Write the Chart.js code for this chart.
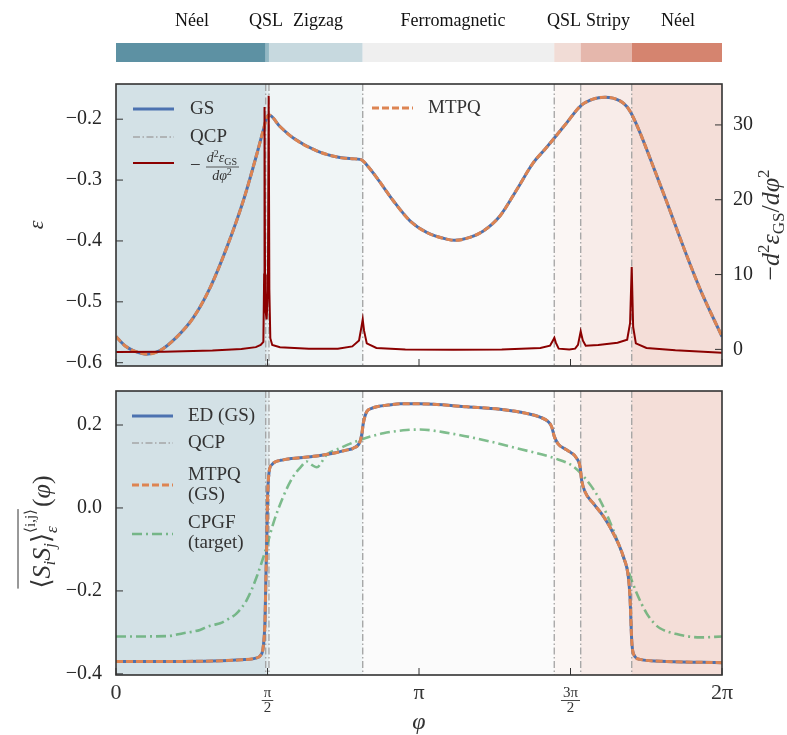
<!DOCTYPE html>
<html>
<head>
<meta charset="utf-8">
<script src="https://cdn.jsdelivr.net/npm/chart.js@4.4.1/dist/chart.umd.min.js"></script>
<style>
  body { margin: 0; background: #fff; }
  canvas { position: absolute; left: 0; }
  #topChart { top: 0; }
  #bottomChart { top: 378px; }
</style>
</head>
<body>
<canvas id="topChart" width="787" height="378"></canvas>
<canvas id="bottomChart" width="787" height="357"></canvas>
<script>
const PI = Math.PI;
const SERIF = "'Liberation Serif', 'DejaVu Serif', serif";
const INK = '#333333';

/* ======= Data ======= */
const xTicks = [0, PI / 2, PI, 3 * PI / 2, 2 * PI];
const xTickLabels = ['0', 'π/2', 'π', '3π/2', '2π'];

const phaseNames = ['Néel', 'QSL', 'Zigzag', 'Ferromagnetic', 'QSL', 'Stripy', 'Néel'];
const phaseLabelPhi = [0.788, 1.555, 2.094, 3.494, 4.645, 5.101, 5.827];
const phaseEdges = [0, 1.552, 1.586, 2.558, 4.544, 4.818, 5.347, 2 * PI];
const phaseColors = ['#5d91a3', '#93b8c4', '#c7d9df', '#efefef', '#f1dcd6', '#e5b7ac', '#d5846f'];
const qcpPhi = [1.552, 1.586, 2.558, 4.544, 4.818, 5.347];

// top panel: ground state energy per site
const energyPhi = [0, 0.10, 0.18, 0.318, 0.456, 0.629, 0.802, 0.975, 1.148, 1.320, 1.459, 1.527,
  1.562, 1.586, 1.70, 1.838, 2.081, 2.322, 2.45, 2.530, 2.558, 2.62, 2.703, 2.875, 3.048, 3.221,
  3.428, 3.515, 3.65, 3.805, 3.981, 4.158, 4.324, 4.450, 4.545, 4.673, 4.818, 4.946, 5.070, 5.226,
  5.30, 5.347, 5.433, 5.568, 5.713, 5.879, 6.056, 6.283];
const energyGS = [-0.557, -0.573, -0.580, -0.586, -0.580, -0.558, -0.526, -0.477, -0.411, -0.334,
  -0.258, -0.218, -0.198, -0.193, -0.212, -0.231, -0.252, -0.263, -0.265, -0.266, -0.268, -0.279,
  -0.296, -0.334, -0.367, -0.386, -0.397, -0.399, -0.395, -0.384, -0.359, -0.315, -0.272, -0.249,
  -0.231, -0.206, -0.178, -0.167, -0.164, -0.170, -0.180, -0.192, -0.222, -0.277, -0.337, -0.408,
  -0.479, -0.557];
const energyMTPQ = [-0.557, -0.573, -0.580, -0.586, -0.580, -0.558, -0.526, -0.477, -0.411, -0.334,
  -0.258, -0.218, -0.198, -0.193, -0.212, -0.231, -0.252, -0.263, -0.265, -0.266, -0.268, -0.279,
  -0.296, -0.334, -0.367, -0.386, -0.397, -0.399, -0.395, -0.384, -0.359, -0.315, -0.272, -0.249,
  -0.231, -0.206, -0.178, -0.167, -0.164, -0.170, -0.180, -0.192, -0.222, -0.277, -0.337, -0.408,
  -0.479, -0.557];

// top panel: -d2E/dphi2 (right axis)
const derivPhi = [0, 0.5, 1.0, 1.3, 1.45, 1.50, 1.528, 1.536, 1.540, 1.545, 1.552, 1.562, 1.575,
  1.583, 1.590, 1.600, 1.62, 1.7, 2.0, 2.3, 2.45, 2.52, 2.545, 2.558, 2.572, 2.6, 2.7, 3.0, 3.5,
  4.0, 4.4, 4.50, 4.53, 4.545, 4.56, 4.59, 4.70, 4.76, 4.79, 4.818, 4.84, 4.87, 5.0, 5.2, 5.30,
  5.33, 5.347, 5.362, 5.39, 5.5, 5.8, 6.283];
const derivVal = [-0.36, -0.3, -0.15, 0.05, 0.3, 0.6, 1.0, 10, 32.4, 10, 5, 4, 8, 33.9, 8, 1.5,
  0.6, 0.3, 0.1, 0.1, 0.4, 1.2, 3.0, 4.0, 2.5, 0.8, 0.2, 0.0, -0.05, 0.0, 0.2, 0.5, 1.2, 1.55,
  0.9, 0.1, 0.0, 0.1, 0.6, 2.4, 1.2, 0.5, 0.6, 0.9, 1.3, 3.5, 11.0, 3.0, 0.8, 0.2, -0.1, -0.44];

// bottom panel: averaged spin correlation
const corrPhi = [0, 0.5, 1.0, 1.3, 1.45, 1.50, 1.527, 1.545, 1.555, 1.562, 1.572, 1.586, 1.614,
  1.735, 1.908, 2.10, 2.253, 2.40, 2.460, 2.530, 2.55, 2.564, 2.599, 2.65, 2.703, 2.85, 2.944,
  3.152, 3.290, 3.636, 3.981, 4.258, 4.396, 4.482, 4.517, 4.545, 4.586, 4.673, 4.776, 4.811,
  4.828, 4.863, 4.949, 5.053, 5.156, 5.260, 5.312, 5.329, 5.347, 5.364, 5.433, 5.710, 6.283];
const corrED = [-0.370, -0.370, -0.369, -0.366, -0.362, -0.355, -0.334, -0.27, -0.16, -0.093,
  0.028, 0.084, 0.104, 0.116, 0.121, 0.126, 0.132, 0.140, 0.144, 0.160, 0.180, 0.204, 0.232,
  0.240, 0.244, 0.249, 0.251, 0.251, 0.250, 0.244, 0.238, 0.228, 0.219, 0.208, 0.196, 0.172,
  0.154, 0.140, 0.120, 0.100, 0.067, 0.039, 0.011, -0.020, -0.061, -0.117, -0.166, -0.214,
  -0.319, -0.351, -0.365, -0.370, -0.373];
const corrMTPQ = [-0.370, -0.370, -0.369, -0.366, -0.362, -0.355, -0.334, -0.27, -0.16, -0.093,
  0.028, 0.084, 0.104, 0.116, 0.121, 0.126, 0.132, 0.140, 0.144, 0.160, 0.180, 0.204, 0.232,
  0.240, 0.244, 0.249, 0.251, 0.251, 0.250, 0.244, 0.238, 0.228, 0.219, 0.208, 0.196, 0.172,
  0.154, 0.140, 0.120, 0.100, 0.067, 0.039, 0.011, -0.020, -0.061, -0.117, -0.166, -0.214,
  -0.319, -0.351, -0.365, -0.370, -0.373];
const cpgfPhi = [0, 0.525, 0.698, 0.871, 0.95, 1.009, 1.08, 1.147, 1.251, 1.355, 1.459, 1.562,
  1.631, 1.735, 1.838, 1.92, 1.977, 2.03, 2.081, 2.184, 2.322, 2.530, 2.771, 3.014, 3.152, 3.463,
  3.808, 4.154, 4.545, 4.742, 4.880, 5.018, 5.156, 5.295, 5.398, 5.502, 5.58, 5.640, 5.813,
  6.056, 6.283];
const cpgfVal = [-0.310, -0.309, -0.302, -0.294, -0.286, -0.282, -0.278, -0.270, -0.254, -0.222,
  -0.166, -0.093, -0.037, 0.028, 0.076, 0.100, 0.112, 0.104, 0.098, 0.128, 0.144, 0.164, 0.180,
  0.188, 0.189, 0.180, 0.164, 0.144, 0.120, 0.100, 0.067, 0.019, -0.053, -0.141, -0.205, -0.254,
  -0.278, -0.290, -0.304, -0.312, -0.310];

/* ======= Helpers ======= */
function pts(xs, ys) {
  return xs.map((x, i) => ({ x: x, y: ys[i] }));
}

function fmtTick(v, digits) {
  const s = Math.abs(v) < 1e-9 ? (0).toFixed(digits) : v.toFixed(digits);
  return s.replace('-', '\u2212');
}

// draw a list of text runs (for sub/superscripts); returns total width
function drawRuns(ctx, runs, x, y, measureOnly) {
  let cx = x, start = x;
  runs.forEach(r => {
    ctx.font = (r.it ? 'italic ' : '') + r.s + 'px ' + SERIF;
    const w = ctx.measureText(r.t).width;
    const sx = r.over ? start : cx;
    if (!measureOnly) ctx.fillText(r.t, sx, y + (r.dy || 0));
    start = sx;
    cx = Math.max(cx, sx + w);
  });
  return cx - x;
}

function sampleLine(ctx, x, y, color, width, dash) {
  ctx.save();
  ctx.strokeStyle = color;
  ctx.lineWidth = width;
  ctx.setLineDash(dash || []);
  ctx.beginPath();
  ctx.moveTo(x, y);
  ctx.lineTo(x + 41, y);
  ctx.stroke();
  ctx.restore();
}

function legendText(ctx, text, x, y) {
  ctx.font = '19px ' + SERIF;
  ctx.fillStyle = INK;
  ctx.textAlign = 'left';
  ctx.textBaseline = 'middle';
  ctx.fillText(text, x, y);
}

const QCP_DASH = [7, 2.5, 1.5, 2.5];
const QCP_COLOR = 'rgba(160,160,160,0.9)';

/* ======= Plugins ======= */
const phasePlugin = {
  id: 'phases',
  beforeDatasetsDraw(chart) {
    const { ctx, chartArea: a, scales: { x } } = chart;
    ctx.save();
    ctx.beginPath();
    ctx.rect(a.left, a.top, a.width, a.height);
    ctx.clip();
    ctx.globalAlpha = 0.27;
    phaseColors.forEach((c, i) => {
      const x0 = x.getPixelForValue(phaseEdges[i]);
      const x1 = x.getPixelForValue(phaseEdges[i + 1]);
      ctx.fillStyle = c;
      ctx.fillRect(x0, a.top, x1 - x0, a.height);
    });
    ctx.globalAlpha = 1;
    ctx.strokeStyle = QCP_COLOR;
    ctx.lineWidth = 1.4;
    ctx.setLineDash(QCP_DASH);
    qcpPhi.forEach(p => {
      const px = x.getPixelForValue(p);
      ctx.beginPath();
      ctx.moveTo(px, a.top);
      ctx.lineTo(px, a.bottom);
      ctx.stroke();
    });
    ctx.restore();
  }
};

const framePlugin = {
  id: 'frame',
  afterDatasetsDraw(chart) {
    const { ctx, chartArea: a, scales } = chart;
    ctx.save();
    ctx.strokeStyle = INK;
    ctx.lineWidth = 1;
    ctx.beginPath();
    scales.x.ticks.forEach(t => {
      const px = scales.x.getPixelForValue(t.value);
      ctx.moveTo(px, a.bottom);
      ctx.lineTo(px, a.bottom - 7);
    });
    scales.y.ticks.forEach(t => {
      const py = scales.y.getPixelForValue(t.value);
      ctx.moveTo(a.left, py);
      ctx.lineTo(a.left + 7, py);
    });
    if (scales.y1) {
      scales.y1.ticks.forEach(t => {
        const py = scales.y1.getPixelForValue(t.value);
        ctx.moveTo(a.right, py);
        ctx.lineTo(a.right - 7, py);
      });
    }
    ctx.stroke();
    ctx.lineWidth = 1.6;
    ctx.strokeRect(a.left, a.top, a.width, a.height);
    ctx.restore();
  }
};

const topDecor = {
  id: 'topDecor',
  afterDraw(chart) {
    const { ctx, chartArea: a, scales: { x } } = chart;
    ctx.save();
    // phase bar
    phaseColors.forEach((c, i) => {
      const x0 = x.getPixelForValue(phaseEdges[i]);
      const x1 = x.getPixelForValue(phaseEdges[i + 1]);
      ctx.fillStyle = c;
      ctx.fillRect(x0, 43, x1 - x0, 19);
      ctx.font = '18px ' + SERIF;
      ctx.fillStyle = '#111';
      ctx.textAlign = 'center';
      ctx.textBaseline = 'alphabetic';
      ctx.fillText(phaseNames[i], x.getPixelForValue(phaseLabelPhi[i]), 26);
    });

    // legend
    sampleLine(ctx, 133, 109, '#4c72b0', 2.8);
    legendText(ctx, 'GS', 190, 109);
    sampleLine(ctx, 133, 137, QCP_COLOR, 1.5, QCP_DASH);
    legendText(ctx, 'QCP', 190, 137);
    sampleLine(ctx, 133, 163, '#8b0000', 2);
    legendText(ctx, '\u2212', 190, 166);
    ctx.fillStyle = INK;
    ctx.textBaseline = 'alphabetic';
    const num = [{ t: 'd', s: 14, it: true }, { t: '2', s: 10, dy: -5 }, { t: 'ε', s: 14, it: true }, { t: 'GS', s: 10, dy: 3 }];
    const den = [{ t: 'd', s: 14, it: true }, { t: 'φ', s: 14, it: true }, { t: '2', s: 10, dy: -5 }];
    const nw = drawRuns(ctx, num, 0, 0, true);
    const dw = drawRuns(ctx, den, 0, 0, true);
    drawRuns(ctx, num, 222 - nw / 2, 162);
    drawRuns(ctx, den, 222 - dw / 2, 180);
    ctx.strokeStyle = INK;
    ctx.lineWidth = 0.8;
    ctx.beginPath();
    ctx.moveTo(206, 167);
    ctx.lineTo(239, 167);
    ctx.stroke();

    sampleLine(ctx, 372, 108, '#dd8452', 2.8, [7, 3]);
    legendText(ctx, 'MTPQ', 428, 108);

    // axis titles
    ctx.fillStyle = INK;
    ctx.save();
    ctx.translate(37, (a.top + a.bottom) / 2);
    ctx.rotate(-PI / 2);
    ctx.font = 'italic 22px ' + SERIF;
    ctx.textAlign = 'center';
    ctx.textBaseline = 'middle';
    ctx.fillText('ε', 0, 0);
    ctx.restore();

    const rt = [{ t: '\u2212', s: 26 }, { t: 'd', s: 26, it: true }, { t: '2', s: 17, dy: -10 },
      { t: 'ε', s: 26, it: true }, { t: 'GS', s: 17, dy: 5 }, { t: '/', s: 26 },
      { t: 'd', s: 26, it: true }, { t: 'φ', s: 26, it: true }, { t: '2', s: 17, dy: -10 }];
    ctx.save();
    ctx.translate(771, (a.top + a.bottom) / 2);
    ctx.rotate(-PI / 2);
    ctx.textAlign = 'left';
    ctx.textBaseline = 'alphabetic';
    const rw = drawRuns(ctx, rt, 0, 0, true);
    drawRuns(ctx, rt, -rw / 2, 8);
    ctx.restore();
    ctx.restore();
  }
};

const bottomDecor = {
  id: 'bottomDecor',
  afterDraw(chart) {
    const { ctx, chartArea: a, scales: { x } } = chart;
    ctx.save();
    // x tick labels
    ctx.fillStyle = INK;
    ctx.textAlign = 'center';
    xTicks.forEach((v, i) => {
      const px = x.getPixelForValue(v);
      const lab = xTickLabels[i];
      if (lab.indexOf('/') >= 0) {
        const parts = lab.split('/');
        ctx.textBaseline = 'middle';
        ctx.font = '15px ' + SERIF;
        ctx.fillText(parts[0], px, a.bottom + 18);
        ctx.fillText(parts[1], px, a.bottom + 33);
        const bw = ctx.measureText(parts[0]).width + 4;
        ctx.strokeStyle = INK;
        ctx.lineWidth = 0.9;
        ctx.beginPath();
        ctx.moveTo(px - bw / 2, a.bottom + 25.5);
        ctx.lineTo(px + bw / 2, a.bottom + 25.5);
        ctx.stroke();
      } else {
        ctx.textBaseline = 'middle';
        ctx.font = '22px ' + SERIF;
        ctx.fillText(lab, px, a.bottom + 18);
      }
    });
    ctx.font = 'italic 24px ' + SERIF;
    ctx.textBaseline = 'middle';
    ctx.fillText('φ', (a.left + a.right) / 2, a.bottom + 48);

    // legend
    const t = a.top;
    sampleLine(ctx, 132, t + 25, '#4c72b0', 2.8);
    legendText(ctx, 'ED (GS)', 188, t + 25);
    sampleLine(ctx, 132, t + 52, QCP_COLOR, 1.5, QCP_DASH);
    legendText(ctx, 'QCP', 188, t + 52);
    sampleLine(ctx, 132, t + 94, '#dd8452', 2.8, [7, 3]);
    legendText(ctx, 'MTPQ', 188, t + 84);
    legendText(ctx, '(GS)', 188, t + 104);
    sampleLine(ctx, 132, t + 143, 'rgba(85,168,104,0.75)', 2.6, [10, 4, 2, 4]);
    legendText(ctx, 'CPGF', 188, t + 132);
    legendText(ctx, '(target)', 188, t + 152);

    // y title
    ctx.save();
    ctx.translate(42, (a.top + a.bottom) / 2);
    ctx.rotate(-PI / 2);
    ctx.fillStyle = INK;
    ctx.textAlign = 'left';
    ctx.textBaseline = 'alphabetic';
    const partA = [{ t: '⟨', s: 26 }, { t: 'S', s: 26, it: true }, { t: 'i', s: 17, it: true, dy: 5 },
      { t: 'S', s: 26, it: true }, { t: 'j', s: 17, it: true, dy: 5 }, { t: '⟩', s: 26 },
      { t: 'ε', s: 17, it: true, dy: 7 }, { t: '⟨i,j⟩', s: 15, dy: -15, over: true }];
    const partB = [{ t: '(', s: 26 }, { t: 'φ', s: 26, it: true }, { t: ')', s: 26 }];
    const wa = drawRuns(ctx, partA, 0, 0, true);
    const wb = drawRuns(ctx, partB, 0, 0, true);
    const x0 = -(wa + wb) / 2;
    drawRuns(ctx, partA, x0, 8);
    drawRuns(ctx, partB, x0 + wa + 2, 8);
    ctx.strokeStyle = INK;
    ctx.lineWidth = 1;
    ctx.beginPath();
    ctx.moveTo(x0, -24);
    ctx.lineTo(x0 + wa, -24);
    ctx.stroke();
    ctx.restore();
    ctx.restore();
  }
};

/* ======= Charts ======= */
function xAxis(height) {
  return {
    type: 'linear',
    min: 0,
    max: 2 * PI,
    grid: { display: false },
    border: { display: false },
    ticks: { display: false },
    afterBuildTicks: s => { s.ticks = xTicks.map(v => ({ value: v })); },
    afterFit: s => {
      s.height = height;
      s.paddingLeft = 0;
      s.paddingRight = 0;
    }
  };
}

function yAxis(min, max, step, digits, pos, width, pad) {
  return {
    type: 'linear',
    position: pos,
    min: min,
    max: max,
    grid: { display: false, drawTicks: false },
    border: { display: false },
    ticks: {
      stepSize: step,
      includeBounds: false,
      padding: pad,
      color: '#262626',
      font: { family: SERIF, size: 20 },
      callback: v => fmtTick(v, digits)
    },
    afterFit: s => {
      s.width = width;
      // labels may overhang the plot edges, like in the original figure
      s.paddingTop = 0;
      s.paddingBottom = 0;
    }
  };
}

new Chart(document.getElementById('topChart'), {
  type: 'line',
  data: {
    datasets: [
      { label: '-d2E', data: pts(derivPhi, derivVal), yAxisID: 'y1', borderColor: '#8b0000',
        borderWidth: 2, pointRadius: 0, tension: 0 },
      { label: 'MTPQ', data: pts(energyPhi, energyMTPQ), yAxisID: 'y', borderColor: '#dd8452',
        borderWidth: 3, borderDash: [7, 3], pointRadius: 0, cubicInterpolationMode: 'monotone' },
      { label: 'GS', data: pts(energyPhi, energyGS), yAxisID: 'y', borderColor: '#4c72b0',
        borderWidth: 3, pointRadius: 0, cubicInterpolationMode: 'monotone' }
    ]
  },
  options: {
    responsive: false,
    animation: false,
    events: [],
    devicePixelRatio: 1,
    layout: { padding: { top: 84, left: 0, right: 0, bottom: 0 } },
    plugins: { legend: { display: false }, tooltip: { enabled: false } },
    scales: {
      x: xAxis(12),
      y: yAxis(-0.6054, -0.1422, 0.1, 1, 'left', 116, 14),
      y1: yAxis(-2.22, 35.47, 10, 0, 'right', 65, 11)
    }
  },
  plugins: [phasePlugin, framePlugin, topDecor]
});

new Chart(document.getElementById('bottomChart'), {
  type: 'line',
  data: {
    datasets: [
      { label: 'MTPQ (GS)', data: pts(corrPhi, corrMTPQ), borderColor: '#dd8452', borderWidth: 3,
        borderDash: [7, 3], pointRadius: 0, cubicInterpolationMode: 'monotone' },
      { label: 'ED (GS)', data: pts(corrPhi, corrED), borderColor: '#4c72b0', borderWidth: 3,
        pointRadius: 0, cubicInterpolationMode: 'monotone' },
      { label: 'CPGF (target)', data: pts(cpgfPhi, cpgfVal), borderColor: 'rgba(85,168,104,0.75)',
        borderWidth: 2.6, borderDash: [10, 4, 2, 4], pointRadius: 0, cubicInterpolationMode: 'monotone' }
    ]
  },
  options: {
    responsive: false,
    animation: false,
    events: [],
    devicePixelRatio: 1,
    layout: { padding: { top: 13, left: 0, right: 65, bottom: 0 } },
    plugins: { legend: { display: false }, tooltip: { enabled: false } },
    scales: {
      x: xAxis(60),
      y: yAxis(-0.4027, 0.282, 0.2, 1, 'left', 116, 14)
    }
  },
  plugins: [phasePlugin, framePlugin, bottomDecor]
});
</script>
</body>
</html>
